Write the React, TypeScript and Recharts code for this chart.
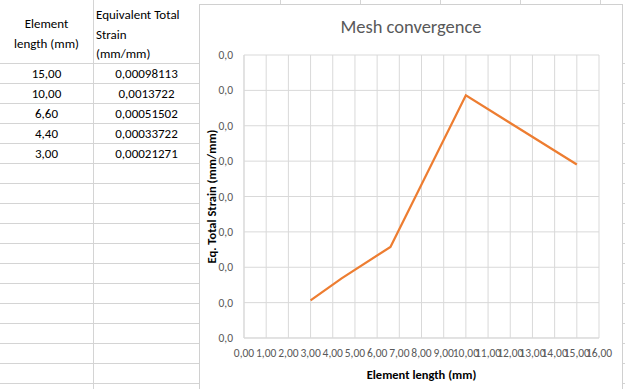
import React from 'react';
import { LineChart, Line, XAxis, YAxis, CartesianGrid, Label } from 'recharts';

const elementLengths = [15, 10, 6.6, 4.4, 3];
const strains = [0.00098113, 0.0013722, 0.00051502, 0.00033722, 0.00021271];
const xTicks = [0, 1, 2, 3, 4, 5, 6, 7, 8, 9, 10, 11, 12, 13, 14, 15, 16];
const yTicks = [0, 0.0002, 0.0004, 0.0006, 0.0008, 0.001, 0.0012, 0.0014, 0.0016];

const chartData = elementLengths.map((len, i) => ({ length: len, strain: strains[i] }));

const FONT = 'Carlito, Lato, "Open Sans", sans-serif';
const GRID = '#d9d9d9';
const CELL_LINE = '#d4d4d4';

const comma = (s: string) => s.replace('.', ',');

const YTitle = ({ viewBox }: any) => {
  const x = viewBox.x + 11;
  const y = viewBox.y + viewBox.height / 2;
  return (
    <text x={x} y={y} transform={`rotate(-90 ${x} ${y})`} textAnchor="middle" dominantBaseline="central"
      fontFamily={FONT} fontSize={12.5} fontWeight={700} fill="#000">
      Eq. Total Strain (mm/mm)
    </text>
  );
};

const XTitle = ({ viewBox }: any) => (
  <text x={viewBox.x + viewBox.width / 2} y={viewBox.y + 36} textAnchor="middle" dominantBaseline="central"
    fontFamily={FONT} fontSize={12.5} fontWeight={700} fill="#000">
    Element length (mm)
  </text>
);

const rowLines = [63, 83, 103, 123, 143, 163, 183, 203, 223, 243, 263, 283, 303, 323, 343, 363, 383];
const topColumns = [280, 360, 440, 520, 600];

const App = () => {
  return (
    <div style={{ position: 'absolute', left: 0, top: 0, width: 625, height: 389, overflow: 'hidden', background: '#fff', fontFamily: FONT }}>
      {/* sheet grid */}
      {rowLines.map((y) => (
        <div key={'r' + y} style={{ position: 'absolute', left: 0, top: y, width: 200, height: 1, background: CELL_LINE }} />
      ))}
      {rowLines.map((y) => (
        <div key={'rr' + y} style={{ position: 'absolute', left: 622, top: y, width: 3, height: 1, background: CELL_LINE }} />
      ))}
      <div style={{ position: 'absolute', left: 93, top: 0, width: 1, height: 389, background: CELL_LINE }} />
      {topColumns.map((x) => (
        <div key={'c' + x} style={{ position: 'absolute', left: x, top: 0, width: 1, height: 4, background: CELL_LINE }} />
      ))}

      {/* table header */}
      <div style={{ position: 'absolute', left: 0, top: 14, width: 93, lineHeight: '20px', fontSize: 13, textAlign: 'center', color: '#000' }}>
        Element<br />length (mm)
      </div>
      <div style={{ position: 'absolute', left: 96, top: 5, width: 104, lineHeight: '19.5px', fontSize: 13, color: '#000' }}>
        Equivalent Total<br />Strain<br />(mm/mm)
      </div>
      {elementLengths.map((len, i) => (
        <React.Fragment key={i}>
          <div style={{ position: 'absolute', left: 0, top: 63 + i * 20, width: 93, lineHeight: '22px', fontSize: 13, textAlign: 'center', color: '#000' }}>
            {comma(len.toFixed(2))}
          </div>
          <div style={{ position: 'absolute', left: 93, top: 63 + i * 20, width: 107, lineHeight: '22px', fontSize: 13, textAlign: 'center', color: '#000' }}>
            {comma(String(strains[i]))}
          </div>
        </React.Fragment>
      ))}

      {/* chart frame */}
      <div style={{ position: 'absolute', left: 199, top: 4, width: 424, height: 390, border: '1px solid #d0d0d0', background: '#fff', boxSizing: 'border-box' }}>
        <div style={{ position: 'absolute', left: 0, top: 10, width: 422, textAlign: 'center', fontSize: 18.5, lineHeight: '24px', color: '#595959' }}>
          Mesh convergence
        </div>
        <LineChart width={422} height={384} data={chartData} margin={{ top: 50, right: 23, left: 0, bottom: 21 }}>
          <CartesianGrid stroke={GRID} strokeWidth={1} />
          <XAxis type="number" dataKey="length" domain={[0, 16]} ticks={xTicks} interval={0}
            tickFormatter={(v: number) => comma(v.toFixed(2))}
            tick={{ fill: '#595959', fontSize: 11.5, fontFamily: FONT }}
            tickSize={0} tickMargin={11} height={30} axisLine={{ stroke: GRID }} tickLine={false}>
            <Label content={<XTitle />} />
          </XAxis>
          <YAxis type="number" domain={[0, 0.0016]} ticks={yTicks} interval={0}
            tickFormatter={(v: number) => comma(v.toFixed(1))}
            tick={{ fill: '#595959', fontSize: 11.5, fontFamily: FONT }}
            tickSize={0} tickMargin={11} width={44} axisLine={{ stroke: GRID }} tickLine={false}>
            <Label content={<YTitle />} />
          </YAxis>
          <Line type="linear" dataKey="strain" stroke="#ED7D31" strokeWidth={2.25} dot={false} isAnimationActive={false} />
        </LineChart>
      </div>
    </div>
  );
};

export default App;
